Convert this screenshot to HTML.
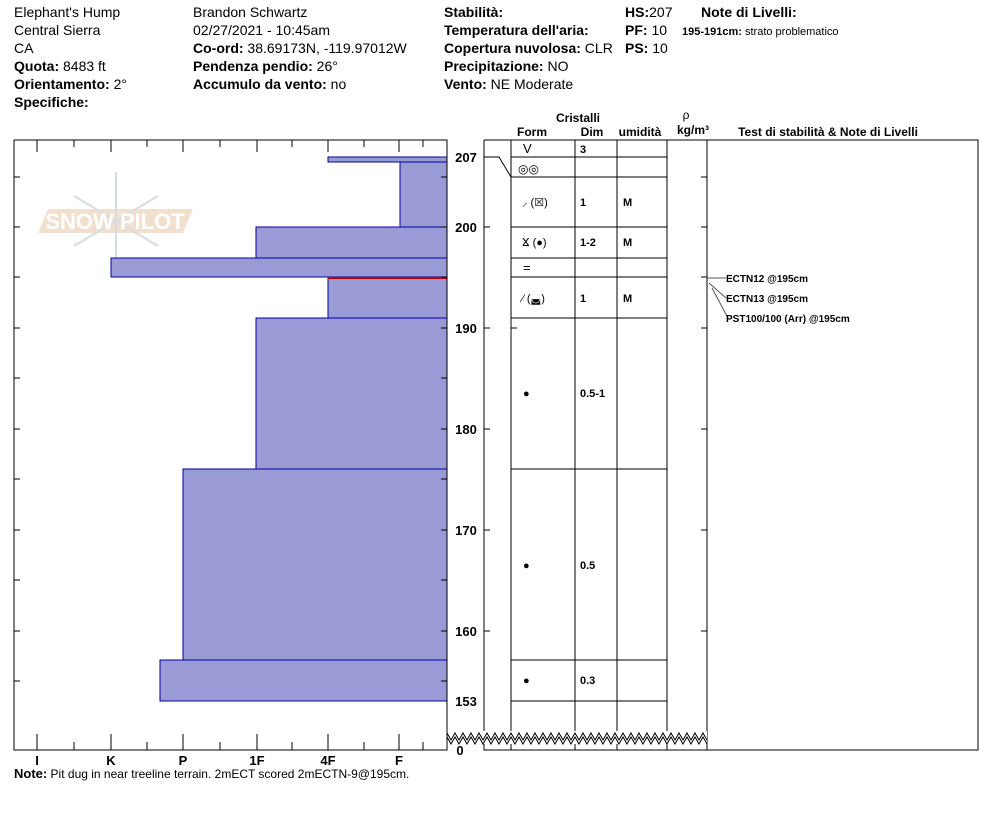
<!DOCTYPE html>
<html><head><meta charset="utf-8"><style>
body{margin:0;background:#fff;width:994px;height:840px;overflow:hidden}
svg{display:block;font-family:"Liberation Sans",Arial,sans-serif}
</style></head><body>
<svg width="994" height="840" viewBox="0 0 994 840" xmlns="http://www.w3.org/2000/svg">
<defs><clipPath id="zc"><rect x="447" y="720" width="260" height="40"/></clipPath></defs>
<g font-size="14" fill="#000">
<text x="14" y="17">Elephant's Hump</text>
<text x="14" y="35">Central Sierra</text>
<text x="14" y="53">CA</text>
<text x="14" y="71"><tspan font-weight="bold">Quota:</tspan> 8483 ft</text>
<text x="14" y="89"><tspan font-weight="bold">Orientamento:</tspan> 2°</text>
<text x="14" y="107" font-weight="bold">Specifiche:</text>
<text x="193" y="17">Brandon Schwartz</text>
<text x="193" y="35">02/27/2021 - 10:45am</text>
<text x="193" y="53"><tspan font-weight="bold">Co-ord:</tspan> 38.69173N, -119.97012W</text>
<text x="193" y="71"><tspan font-weight="bold">Pendenza pendio:</tspan> 26°</text>
<text x="193" y="89"><tspan font-weight="bold">Accumulo da vento:</tspan> no</text>
<text x="444" y="17" font-weight="bold">Stabilità:</text>
<text x="444" y="35" font-weight="bold">Temperatura dell'aria:</text>
<text x="444" y="53"><tspan font-weight="bold">Copertura nuvolosa:</tspan> CLR</text>
<text x="444" y="71"><tspan font-weight="bold">Precipitazione:</tspan> NO</text>
<text x="444" y="89"><tspan font-weight="bold">Vento:</tspan>  NE Moderate</text>
<text x="625" y="17"><tspan font-weight="bold">HS:</tspan>207</text>
<text x="625" y="35"><tspan font-weight="bold">PF:</tspan> 10</text>
<text x="625" y="53"><tspan font-weight="bold">PS:</tspan> 10</text>
<text x="701" y="17" font-weight="bold">Note di Livelli:</text>
<text x="682" y="35" font-size="11"><tspan font-weight="bold">195-191cm:</tspan> strato problematico</text>
</g>
<g font-size="12" font-weight="bold" text-anchor="middle">
<text x="578" y="122">Cristalli</text>
<text x="532" y="136">Form</text>
<text x="592" y="136">Dim</text>
<text x="640" y="136">umidità</text>
<text x="686" y="119" font-weight="normal">ρ</text>
<text x="693" y="134">kg/m³</text>
<text x="828" y="136">Test di stabilità &amp; Note di Livelli</text>
</g>
<!-- watermark -->
<g opacity="0.55">
<polygon points="38,233 48,209 193,209 183,233" fill="#e8c7a8"/>
<g stroke="#b5c3cc" stroke-width="2" fill="none">
<line x1="116" y1="172" x2="116" y2="270"/>
<line x1="74" y1="196" x2="158" y2="246"/>
<line x1="74" y1="246" x2="158" y2="196"/>
</g>
<text x="115" y="229" text-anchor="middle" font-size="22" fill="#fff" font-weight="bold">SNOW PILOT</text>
</g>
<!-- bars -->
<g fill="#9a9ad6" stroke="#0000a0" stroke-width="1">
<rect x="328" y="157" width="119" height="5"/>
<rect x="400" y="162" width="47" height="65"/>
<rect x="256" y="227" width="191" height="31"/>
<rect x="111" y="258" width="336" height="19"/>
<rect x="328" y="277" width="119" height="41"/>
<rect x="256" y="318" width="191" height="151"/>
<rect x="183" y="469" width="264" height="191"/>
<rect x="160" y="660" width="287" height="41"/>
</g>
<line x1="328" y1="278" x2="447" y2="278" stroke="#c00000" stroke-width="2"/>
<!-- left frame -->
<g stroke="#000" stroke-width="1" fill="none">
<polyline points="14,140 447,140 447,750 14,750 14,140"/>
<path d="M37,140v12M111,140v12M183,140v12M257,140v12M328,140v12M399,140v12M74,140v7M147,140v7M220,140v7M292,140v7M364,140v7M423,140v7
M37,750v-16M111,750v-16M183,750v-16M257,750v-16M328,750v-16M399,750v-16M74,750v-8M147,750v-8M220,750v-8M292,750v-8M364,750v-8M423,750v-8"/>
<path d="M14,177h6M14,227h6M14,277h6M14,328h6M14,378h6M14,429h6M14,479h6M14,530h6M14,580h6M14,631h6M14,681h6
M447,177h-6M447,227h-6M447,277h-6M447,328h-6M447,378h-6M447,429h-6M447,479h-6M447,530h-6M447,580h-6M447,631h-6M447,681h-6"/>
</g>
<g font-size="13" font-weight="bold" text-anchor="middle">
<text x="37" y="765">I</text><text x="111" y="765">K</text><text x="183" y="765">P</text>
<text x="257" y="765">1F</text><text x="328" y="765">4F</text><text x="399" y="765">F</text>
</g>
<text x="14" y="778" font-size="12"><tspan font-weight="bold" font-size="13">Note:</tspan> Pit dug in near treeline terrain. 2mECT scored 2mECTN-9@195cm.</text>
<g font-size="13" font-weight="bold" text-anchor="middle">
<text x="466" y="162">207</text><text x="466" y="232">200</text><text x="466" y="333">190</text>
<text x="466" y="434">180</text><text x="466" y="535">170</text><text x="466" y="636">160</text>
<text x="466" y="706">153</text><text x="460" y="755">0</text>
</g>
<!-- right table -->
<g stroke="#000" stroke-width="1" fill="none">
<polyline points="484,140 978,140 978,750 484,750 484,140"/>
<path d="M511,140V750M575,140V750M617,140V750M667,140V750M707,140V750"/>
<path d="M511,157H667M511,177H667M511,227H667M511,258H667M511,277H667M511,318H667M511,469H667M511,660H667M511,701H667"/>
<path d="M484,157H499L511,177"/>
<path d="M484,227h6M484,328h6M484,429h6M484,530h6M484,631h6M511,227h6M511,277h6M511,328h6M707,177h-6M707,227h-6M707,277h-6M707,328h-6M707,429h-6M707,530h-6M707,631h-6"/>
</g>
<rect x="448" y="731" width="259" height="13" fill="#fff"/>
<g clip-path="url(#zc)" fill="none" stroke="#000" stroke-width="1">
<path d="M447,733 l4,7 4,-7 4,7 4,-7 4,7 4,-7 4,7 4,-7 4,7 4,-7 4,7 4,-7 4,7 4,-7 4,7 4,-7 4,7 4,-7 4,7 4,-7 4,7 4,-7 4,7 4,-7 4,7 4,-7 4,7 4,-7 4,7 4,-7 4,7 4,-7 4,7 4,-7 4,7 4,-7 4,7 4,-7 4,7 4,-7 4,7 4,-7 4,7 4,-7 4,7 4,-7 4,7 4,-7 4,7 4,-7 4,7 4,-7 4,7 4,-7 4,7 4,-7 4,7 4,-7 4,7 4,-7 4,7 4,-7 4,7 4,-7 4,7 4,-7 4,7 4,-7 4,7 4,-7"/>
<path d="M447,737 l4,7 4,-7 4,7 4,-7 4,7 4,-7 4,7 4,-7 4,7 4,-7 4,7 4,-7 4,7 4,-7 4,7 4,-7 4,7 4,-7 4,7 4,-7 4,7 4,-7 4,7 4,-7 4,7 4,-7 4,7 4,-7 4,7 4,-7 4,7 4,-7 4,7 4,-7 4,7 4,-7 4,7 4,-7 4,7 4,-7 4,7 4,-7 4,7 4,-7 4,7 4,-7 4,7 4,-7 4,7 4,-7 4,7 4,-7 4,7 4,-7 4,7 4,-7 4,7 4,-7 4,7 4,-7 4,7 4,-7 4,7 4,-7 4,7 4,-7 4,7 4,-7 4,7 4,-7"/>
</g>
<g font-size="11" font-weight="bold">
<text x="523" y="153" font-weight="normal" font-size="13">V</text>
<text x="580" y="153">3</text>
<text x="518" y="173" font-weight="normal" font-size="12">◎◎</text>
<text x="522" y="206" font-weight="normal">⸝ (☒)</text>
<text x="580" y="206">1</text><text x="623" y="206">M</text>
<text x="522" y="246" font-weight="normal">ⴴ (●)</text>
<text x="580" y="246">1-2</text><text x="623" y="246">M</text>
<text x="523" y="272" font-weight="normal" font-size="13">=</text>
<text x="522" y="302" font-weight="normal">⁄ (◛)</text>
<text x="580" y="302">1</text><text x="623" y="302">M</text>
<text x="523" y="397" font-weight="normal">●</text><text x="580" y="397">0.5-1</text>
<text x="523" y="569" font-weight="normal">●</text><text x="580" y="569">0.5</text>
<text x="523" y="684" font-weight="normal">●</text><text x="580" y="684">0.3</text>
</g>
<g stroke="#555" fill="none" stroke-width="1">
<path d="M726,278H707M709,283L726,298M712,288L728,318"/>
</g>
<g font-size="10" font-weight="bold">
<text x="726" y="282">ECTN12 @195cm</text>
<text x="726" y="302">ECTN13 @195cm</text>
<text x="726" y="322">PST100/100 (Arr) @195cm</text>
</g>
</svg>
</body></html>
